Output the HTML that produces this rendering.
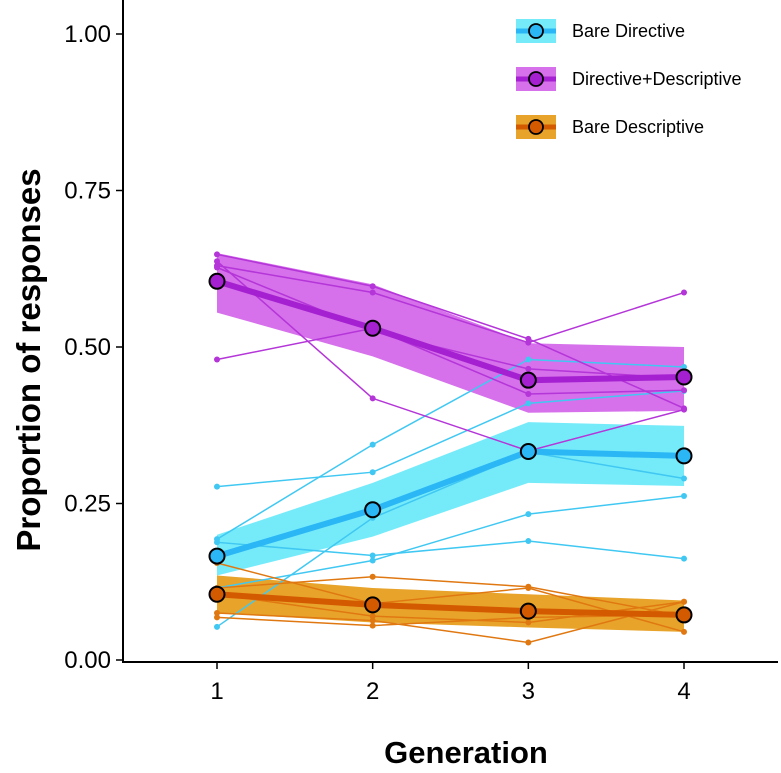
<!DOCTYPE html>
<html><head><meta charset="utf-8"><style>
body{margin:0;background:#fff;}
svg{display:block;font-family:"Liberation Sans",sans-serif;}
</style></head><body>
<svg id="chart" width="781" height="773">
<g id="plot"></g>
<g id="axes"></g>
<g id="legend"></g>
</svg>
<script>
const generations=[1,2,3,4];
const yTicks=[0,0.25,0.5,0.75,1.0];
const yTickLabels=["0.00","0.25","0.50","0.75","1.00"];
const seriesNames=["Bare Directive","Directive+Descriptive","Bare Descriptive"];
const directiveMean=[0.166,0.240,0.333,0.326];
const directiveLow=[0.135,0.197,0.283,0.278];
const directiveHigh=[0.200,0.283,0.380,0.374];
const mixedMean=[0.605,0.530,0.447,0.452];
const mixedLow=[0.555,0.485,0.395,0.398];
const mixedHigh=[0.650,0.600,0.506,0.500];
const descMean=[0.105,0.088,0.078,0.072];
const descLow=[0.075,0.060,0.052,0.045];
const descHigh=[0.135,0.115,0.105,0.095];
const directiveChains=[[0.193,0.344,0.48,0.468],[0.277,0.30,0.41,0.43],[0.053,0.227,0.332,0.29],[0.188,0.167,0.19,0.162],[0.115,0.159,0.233,0.262]];
const mixedChains=[[0.648,0.597,0.513,0.402],[0.630,0.587,0.507,0.587],[0.637,0.418,0.334,0.40],[0.480,0.530,0.425,0.431],[0.627,0.525,0.465,0.45]];
const descChains=[[0.155,0.09,0.115,0.045],[0.115,0.133,0.117,0.07],[0.105,0.07,0.06,0.093],[0.075,0.063,0.028,0.093],[0.068,0.055,0.068,0.072]];

const NS="http://www.w3.org/2000/svg";
const X=g=>217+(g-1)*155.67;
const Y=v=>660-v*626;
const plot=document.getElementById('plot'),axes=document.getElementById('axes'),legend=document.getElementById('legend');
function mk(tag,attrs,parent){const e=document.createElementNS(NS,tag);for(const k in attrs)e.setAttribute(k,attrs[k]);parent.appendChild(e);return e;}

const groups=[
 {name:'directive',mean:directiveMean,lo:directiveLow,hi:directiveHigh,chains:directiveChains,band:'#75ebfa',line:'#2bb7f5',thin:'#40c8f2'},
 {name:'mixed',mean:mixedMean,lo:mixedLow,hi:mixedHigh,chains:mixedChains,band:'#d670eb',line:'#a520d0',thin:'#b435d8'},
 {name:'descriptive',mean:descMean,lo:descLow,hi:descHigh,chains:descChains,band:'#e8a42a',line:'#d45a00',thin:'#e07812'}
];
groups.forEach(g=>{
  let pts=generations.map((x,i)=>X(x)+','+Y(g.hi[i]));
  for(let i=generations.length-1;i>=0;i--)pts.push(X(generations[i])+','+Y(g.lo[i]));
  const b=mk('polygon',{points:pts.join(' '),fill:g.band},plot);
  
  
});
groups.forEach(g=>{
  g.chains.forEach((c,ci)=>{
    const l=mk('polyline',{points:c.map((v,i)=>X(generations[i])+','+Y(v)).join(' '),fill:'none',stroke:g.thin,'stroke-width':1.5},plot);
    
    
    c.forEach((v,i)=>{
      const d=mk('circle',{cx:X(generations[i]),cy:Y(v),r:3,fill:g.thin},plot);
      
      
    });
  });
});
groups.forEach(g=>{
  const l=mk('polyline',{points:g.mean.map((v,i)=>X(generations[i])+','+Y(v)).join(' '),fill:'none',stroke:g.line,'stroke-width':6},plot);
  
  
  g.mean.forEach((v,i)=>{
    const d=mk('circle',{cx:X(generations[i]),cy:Y(v),r:7.5,fill:g.line,stroke:'#000','stroke-width':2},plot);
    
    
  });
});
// axes
let a=mk('line',{x1:123,y1:0,x2:123,y2:663,stroke:'#000','stroke-width':2},axes);

a=mk('line',{x1:122,y1:662,x2:778,y2:662,stroke:'#000','stroke-width':2},axes);

yTicks.forEach((v,i)=>{
  const t=mk('line',{x1:116,y1:Y(v),x2:123,y2:Y(v),stroke:'#000','stroke-width':1.5},axes);
  
  const tx=mk('text',{x:111,y:Y(v)+8,'text-anchor':'end','font-size':24,fill:'#000'},axes);
  tx.textContent=yTickLabels[i];
  
});
generations.forEach(g=>{
  const t=mk('line',{x1:X(g),y1:662,x2:X(g),y2:669,stroke:'#000','stroke-width':1.5},axes);
  
  const tx=mk('text',{x:X(g),y:699,'text-anchor':'middle','font-size':24,fill:'#000'},axes);
  tx.textContent=g;
  
});
let tt=mk('text',{x:466,y:763,'text-anchor':'middle','font-size':31,'font-weight':'bold'},axes);
tt.textContent='Generation';
tt=mk('text',{x:0,y:0,'text-anchor':'middle','font-size':33,'font-weight':'bold',transform:'translate(40,360) rotate(-90)'},axes);
tt.textContent='Proportion of responses';
// legend
groups.forEach((g,i)=>{
  const y=31+i*48;
  const e=mk('g',{},legend);
  
  mk('rect',{x:516,y:y-12,width:40,height:24,fill:g.band},e);
  mk('line',{x1:516,y1:y,x2:556,y2:y,stroke:g.line,'stroke-width':5},e);
  mk('circle',{cx:536,cy:y,r:7,fill:g.line,stroke:'#000','stroke-width':1.8},e);
  const tx=mk('text',{x:572,y:y+6,'font-size':18},e);
  tx.textContent=seriesNames[i];
});
</script>
</body></html>
